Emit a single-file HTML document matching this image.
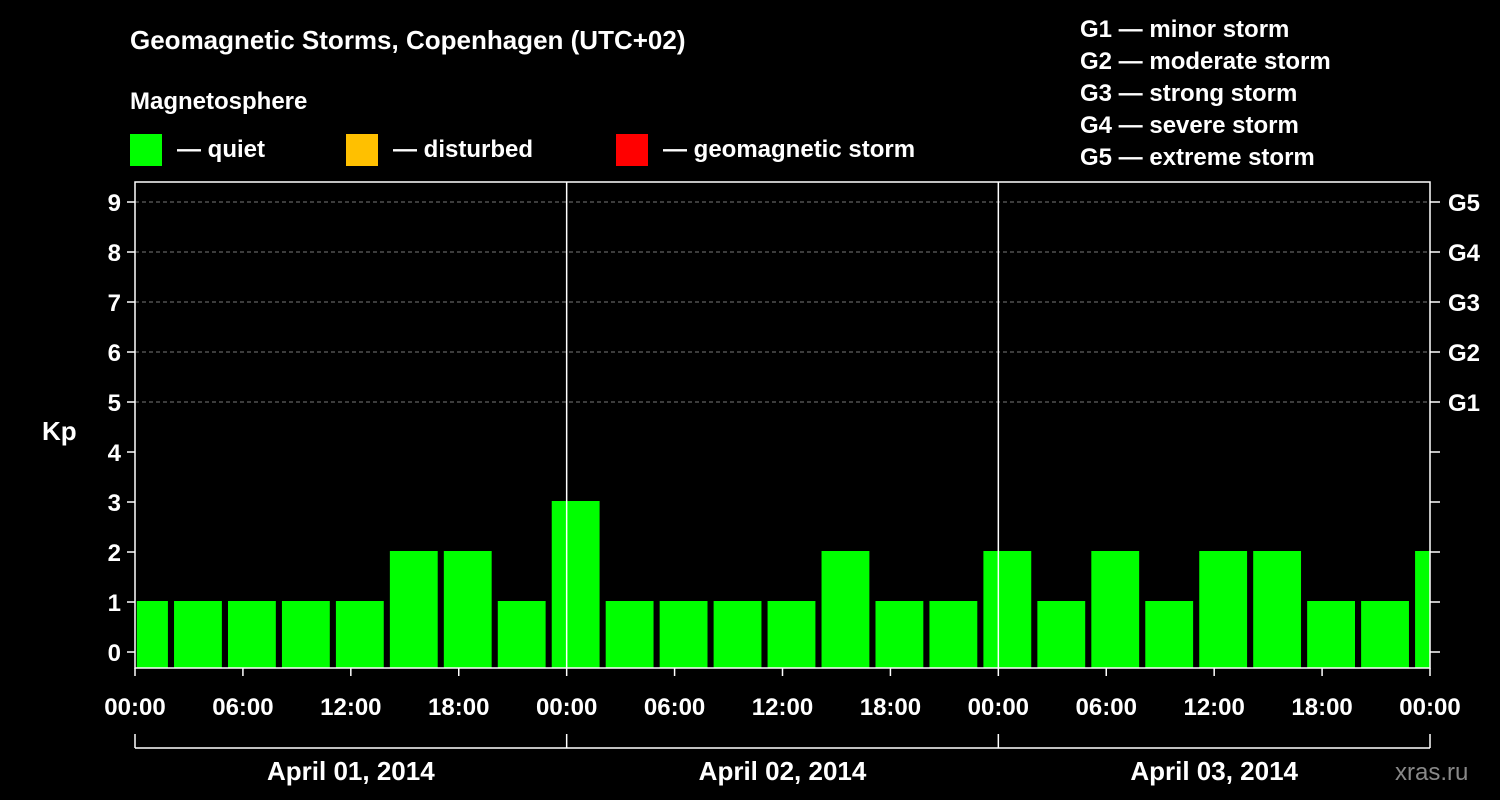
<!DOCTYPE html>
<html><head><meta charset="utf-8"><style>
body{margin:0;background:#000;}
svg{display:block;font-family:"Liberation Sans",sans-serif;font-weight:bold;}
</style></head><body>
<svg id="c" width="1500" height="800" viewBox="0 0 1500 800">
<rect width="1500" height="800" fill="#000"/>
<text x="130" y="49" fill="#fff" font-size="26">Geomagnetic Storms, Copenhagen (UTC+02)</text>
<text x="130" y="109" fill="#fff" font-size="24">Magnetosphere</text>
<g><rect x="130" y="134" width="32" height="32" fill="#00ff00"/><text x="177" y="157" fill="#fff" font-size="24">— quiet</text></g>
<g><rect x="346" y="134" width="32" height="32" fill="#ffc000"/><text x="393" y="157" fill="#fff" font-size="24">— disturbed</text></g>
<g><rect x="616" y="134" width="32" height="32" fill="#ff0000"/><text x="663" y="157" fill="#fff" font-size="24">— geomagnetic storm</text></g>
<g fill="#fff" font-size="24">
<text x="1080" y="37">G1 — minor storm</text>
<text x="1080" y="69">G2 — moderate storm</text>
<text x="1080" y="101">G3 — strong storm</text>
<text x="1080" y="133">G4 — severe storm</text>
<text x="1080" y="165">G5 — extreme storm</text>
</g>
<text x="42" y="440" fill="#fff" font-size="26">Kp</text>
<text x="1395" y="780" fill="#888" font-size="24" font-weight="normal">xras.ru</text>
<g id="grid"></g><g id="bars"></g><g id="axes"></g>
</svg>
<script>
const kpValues=[1,1,1,1,1,2,2,1,3,1,1,1,1,2,1,1,2,1,2,1,2,2,1,1,2];
const yTicks=[0,1,2,3,4,5,6,7,8,9];
const gLabels=["","","","","","G1","G2","G3","G4","G5"];
const xTickLabels=["00:00","06:00","12:00","18:00","00:00","06:00","12:00","18:00","00:00","06:00","12:00","18:00","00:00"];
const dayLabels=["April 01, 2014","April 02, 2014","April 03, 2014"];
const NS="http://www.w3.org/2000/svg";
const L=135,R=1430,T=182,B=668,HOURS=72;
const x=h=>L+h*(R-L)/HOURS;
const y=v=>652-50*v;
function mk(p,tag,a){const e=document.createElementNS(NS,tag);for(const k in a)e.setAttribute(k,a[k]);p.appendChild(e);return e;}
const grid=document.getElementById('grid'),bars=document.getElementById('bars'),axes=document.getElementById('axes');
yTicks.forEach((v,i)=>{
  if(v>=5){const g=mk(grid,'line',{x1:L,x2:R,y1:y(v),y2:y(v),stroke:'#777','stroke-dasharray':'4,3','stroke-width':1});
  }
  const t=mk(axes,'line',{x1:L-8,x2:L,y1:y(v),y2:y(v),stroke:'#fff','stroke-width':1.5});
  
  const t2=mk(axes,'line',{x1:R,x2:R+10,y1:y(v),y2:y(v),stroke:'#fff','stroke-width':1.5});
  
  const lb=mk(axes,'text',{x:L-14,y:y(v)+9,fill:'#fff','font-size':24,'text-anchor':'end'});lb.textContent=v;
  
  if(gLabels[i]){const g=mk(axes,'text',{x:R+18,y:y(v)+9,fill:'#fff','font-size':24});g.textContent=gLabels[i];
  }
});
kpValues.forEach((v,i)=>{
  let h0=-1+i*3+0.17, h1=-1+i*3+3-0.17;
  h0=Math.max(h0,0.1);h1=Math.min(h1,HOURS);
  const c=v>=5?'#ff0000':(v>=4?'#ffc000':'#00ff00');
  const r=mk(bars,'rect',{x:x(h0),y:y(v)-1,width:x(h1)-x(h0),height:B-y(v)+1,fill:c});
  
});
[1,2].forEach(d=>{const l=mk(axes,'line',{x1:x(d*24),x2:x(d*24),y1:T,y2:B,stroke:'#fff','stroke-width':1.5});
});
const fr=mk(axes,'rect',{x:L,y:T,width:R-L,height:B-T,fill:'none',stroke:'#fff','stroke-width':1.5});

xTickLabels.forEach((s,i)=>{const xx=x(i*6);
  const t=mk(axes,'line',{x1:xx,x2:xx,y1:B,y2:B+8,stroke:'#fff','stroke-width':1.5});
  
  const lb=mk(axes,'text',{x:xx,y:715,fill:'#fff','font-size':24,'text-anchor':'middle'});lb.textContent=s;
  });
const br=mk(axes,'line',{x1:L,x2:R,y1:748,y2:748,stroke:'#fff','stroke-width':1.5});

[0,1,2,3].forEach(d=>{const l=mk(axes,'line',{x1:x(d*24),x2:x(d*24),y1:734,y2:748,stroke:'#fff','stroke-width':1.5});
});
dayLabels.forEach((s,d)=>{const lb=mk(axes,'text',{x:x(d*24+12),y:780,fill:'#fff','font-size':26,'text-anchor':'middle'});lb.textContent=s;
});
</script>
</body></html>
